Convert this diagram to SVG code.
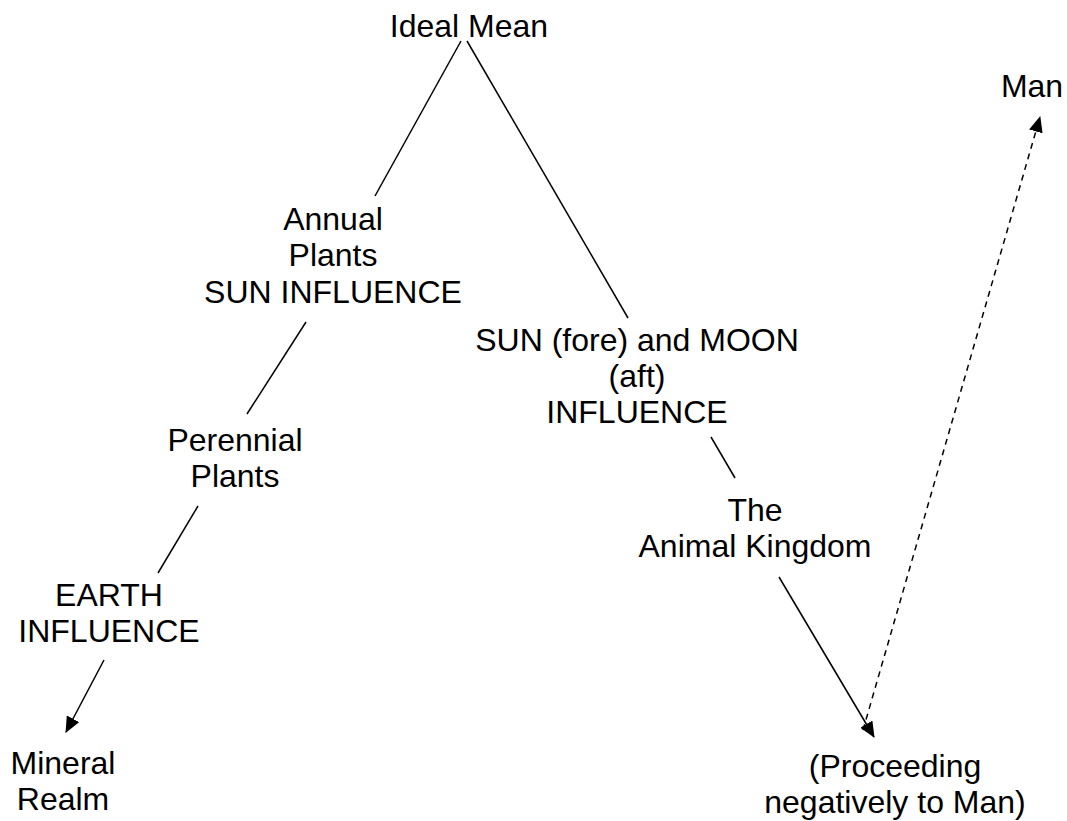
<svg xmlns="http://www.w3.org/2000/svg" width="1067" height="821" viewBox="0 0 1067 821">
<defs>
<style>
text{font-family:"Liberation Sans",Arial,sans-serif;font-size:32px;fill:#000;text-anchor:middle}
.c line{stroke:#000;stroke-width:1.5;fill:none}
.d{stroke-dasharray:6 5}
</style>
<marker id="ahl" markerWidth="16" markerHeight="14" refX="15" refY="7" orient="auto" markerUnits="userSpaceOnUse" viewBox="0 0 16 14">
<path d="M0,0 L16,7 L0,14 z" fill="#000"/>
</marker>
</defs>
<rect width="1067" height="821" fill="#fff"/>
<g class="c" id="connectors">
<line x1="461" y1="41" x2="375" y2="196"/>
<line x1="467" y1="41" x2="628" y2="318"/>
<line x1="306" y1="322" x2="247" y2="414"/>
<line x1="198" y1="506" x2="158" y2="573"/>
<line x1="104" y1="660" x2="66" y2="732" marker-end="url(#ahl)"/>
<line x1="711" y1="437" x2="735" y2="478"/>
<line x1="779" y1="577" x2="874" y2="737" marker-end="url(#ahl)"/>
<line class="d" x1="863" y1="730" x2="1040" y2="117" marker-end="url(#ahl)"/>
</g>
<g id="ideal"><text x="469" y="37">Ideal Mean</text></g>
<g id="man"><text x="1032" y="97">Man</text></g>
<g id="annual"><text x="333" y="230">Annual</text><text x="333" y="266">Plants</text><text x="333" y="303">SUN INFLUENCE</text></g>
<g id="sunmoon"><text x="637" y="351">SUN (fore) and MOON</text><text x="637" y="387">(aft)</text><text x="637" y="423">INFLUENCE</text></g>
<g id="perennial"><text x="235" y="451">Perennial</text><text x="235" y="487">Plants</text></g>
<g id="animal"><text x="755" y="521">The</text><text x="755" y="557">Animal Kingdom</text></g>
<g id="earth"><text x="109" y="606">EARTH</text><text x="109" y="642">INFLUENCE</text></g>
<g id="mineral"><text x="63" y="774">Mineral</text><text x="63" y="810">Realm</text></g>
<g id="proceeding"><text x="895" y="777">(Proceeding</text><text x="895" y="813">negatively to Man)</text></g>
</svg>
